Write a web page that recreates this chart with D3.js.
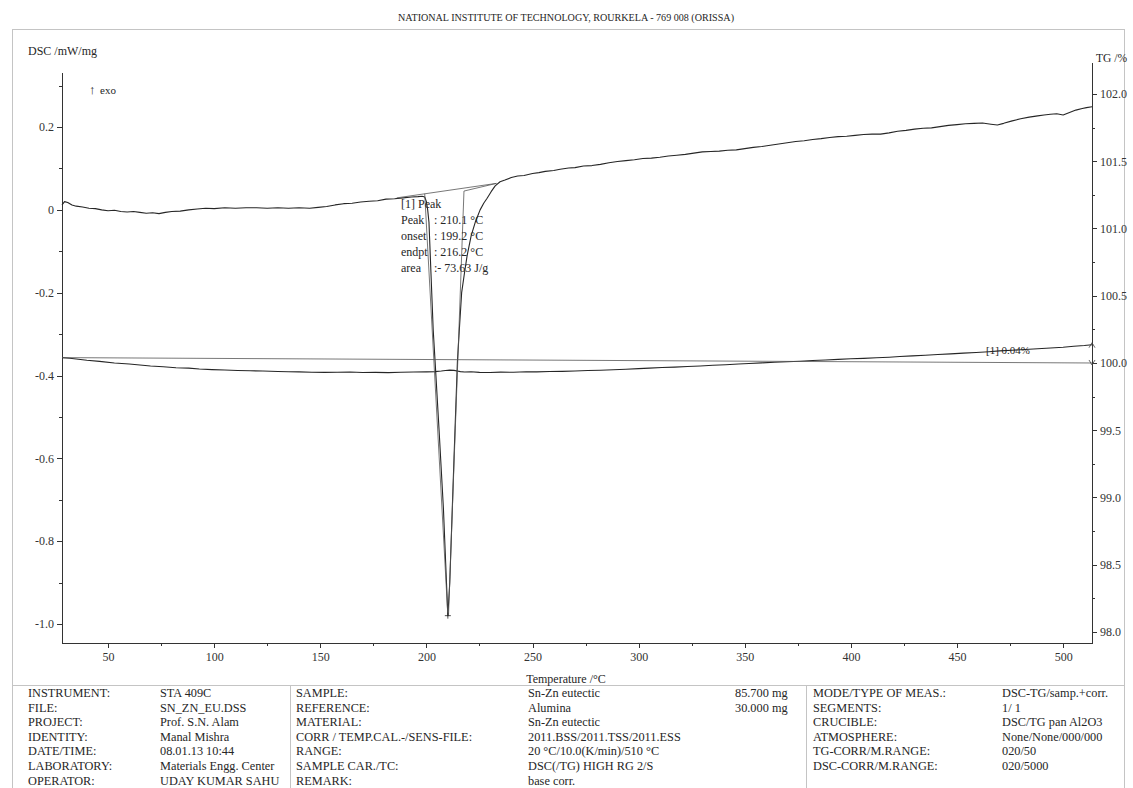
<!DOCTYPE html>
<html>
<head>
<meta charset="utf-8">
<script src="https://cdn.jsdelivr.net/npm/d3@7"></script>
<style>
  html, body { margin: 0; padding: 0; background: #fff; }
  svg { display: block; font-family: "Liberation Serif", "DejaVu Serif", serif; }
  .axis path, .axis line { stroke: #333; stroke-width: 1; shape-rendering: crispEdges; }
  .axis text { fill: #333; font-size: 12px; font-family: "Liberation Serif", serif; }
</style>
</head>
<body>
<svg id="chart" width="1133" height="788"></svg>
<script>
// ---- DSC signal (mW/mg) versus sample temperature (°C) ----
const dscTemp = [28.3, 29.5, 31, 33, 35, 38, 41, 44, 47, 50, 53, 56, 59, 62, 65, 68, 71, 74, 77, 80, 84, 88, 92, 96,
  100, 105, 110, 115, 120, 125, 130, 135, 140, 145, 149, 153, 157, 161, 165, 169, 173, 177, 181, 185, 189, 193, 196,
  198, 199.2, 200, 200.6, 201.2, 203.2, 204.1, 206, 208, 210.1, 211, 213, 214.6, 215.5, 216.6, 218, 219.2, 221.1,
  223, 225.3, 227, 228.6, 230.5, 232.4, 234.7, 237, 240, 243, 246, 250, 253, 256, 260, 263, 267, 270, 274, 278, 282,
  286, 290, 294, 298, 302, 306, 310, 314, 318, 322, 326, 330, 334, 338, 342, 346, 350, 354, 358, 362, 366, 370, 374,
  378, 382, 386, 390, 394, 398, 402, 406, 410, 414, 418, 422, 426, 430, 434, 438, 442, 446, 450, 454, 458, 462, 466,
  469, 472, 476, 480, 484, 488, 491, 494, 497, 500, 503, 506, 509, 511, 513.6];
const dscValue = [0.012, 0.02, 0.018, 0.012, 0.009, 0.007, 0.004, 0.003, 0.0, -0.002, -0.001, -0.004, -0.005, -0.004,
  -0.006, -0.008, -0.007, -0.009, -0.006, -0.004, -0.003, 0.0, 0.002, 0.004, 0.003, 0.005, 0.004, 0.005, 0.005,
  0.004, 0.005, 0.004, 0.005, 0.004, 0.006, 0.008, 0.012, 0.015, 0.016, 0.019, 0.021, 0.022, 0.026, 0.027, 0.029,
  0.031, 0.032, 0.033, 0.031, 0.02, 0.0, -0.03, -0.29, -0.367, -0.535, -0.72, -0.98, -0.9, -0.6, -0.367, -0.29, -0.2,
  -0.15, -0.11, -0.062, -0.03, 0.0, 0.016, 0.028, 0.044, 0.058, 0.068, 0.072, 0.078, 0.082, 0.083, 0.088, 0.09,
  0.093, 0.095, 0.098, 0.101, 0.102, 0.106, 0.107, 0.11, 0.114, 0.117,
  0.119, 0.121, 0.124, 0.125, 0.127, 0.13, 0.132, 0.134, 0.137, 0.14, 0.141, 0.142, 0.144, 0.145, 0.148, 0.151,
  0.153, 0.156, 0.159, 0.162, 0.165, 0.167, 0.17, 0.172, 0.175, 0.177, 0.178, 0.18, 0.182, 0.183, 0.183, 0.186,
  0.19, 0.192, 0.195, 0.197, 0.198, 0.201, 0.204, 0.206, 0.208, 0.209, 0.21, 0.207,
  0.205, 0.209, 0.215, 0.22, 0.224, 0.227, 0.229, 0.231, 0.232, 0.229, 0.235, 0.241, 0.245, 0.247, 0.249];

// ---- TG signal (%) versus sample temperature (°C) ----
const tgTemp = [28.3, 32, 35, 40, 46, 53, 60, 65, 70, 76, 82, 88, 93, 99, 105, 111, 117, 123, 130, 135, 140, 146,
  152, 158, 164, 170, 176, 182, 188, 194, 200, 204, 207, 209, 211, 213, 214.5, 216, 218, 221, 225, 230, 235, 241,
  247, 252, 258, 264, 270, 276, 282, 288, 294, 300, 305, 311, 317, 323, 329, 335, 341, 347, 352, 358, 364, 370, 376,
  382, 388, 394, 400, 406, 412, 418, 423, 429, 435, 441, 447, 453, 459, 465, 470, 476, 482, 488, 494, 500, 505, 510,
  513.6];
const tgValue = [100.04, 100.035, 100.03, 100.02, 100.012, 100.0, 99.993, 99.985, 99.978, 99.972, 99.965, 99.962,
  99.955, 99.951, 99.948, 99.944, 99.942, 99.94, 99.937, 99.935, 99.934, 99.931, 99.93, 99.931, 99.933, 99.929,
  99.93, 99.928, 99.931, 99.933, 99.934, 99.936, 99.94, 99.944, 99.947, 99.945, 99.941, 99.936, 99.933, 99.935,
  99.93, 99.929, 99.932, 99.931, 99.935, 99.934, 99.937, 99.938, 99.941, 99.944, 99.946, 99.95, 99.953, 99.958,
  99.962, 99.966, 99.969, 99.974, 99.978, 99.983, 99.987, 99.992, 99.996, 100.001, 100.005, 100.009, 100.013,
  100.018, 100.022, 100.027, 100.031, 100.034, 100.039, 100.043, 100.048, 100.053, 100.058, 100.063, 100.068,
  100.073, 100.078, 100.084, 100.09, 100.095, 100.1, 100.106, 100.112, 100.117, 100.124, 100.13, 100.136];

// ---- peak evaluation results ----
const peakTemp = 210.1;
const onsetTemp = 199.2;
const endTemp = 216.2;
const peakArea = -73.63;
const baseStart = [186, 0.029];
const baseEnd = [233, 0.064];
const massChange = 0.04;      // % over the run
const tgRefStart = 100.04;
const tgRefEnd = 100.0;

// ---- axis ticks ----
const xTicks = [50, 100, 150, 200, 250, 300, 350, 400, 450, 500];
const xMinor = [75, 125, 175, 225, 275, 325, 375, 425, 475];
const dscTicks = [0.2, 0, -0.2, -0.4, -0.6, -0.8, -1.0];
const dscTickLabels = ["0.2", "0", "-0.2", "-0.4", "-0.6", "-0.8", "-1.0"];
const dscMinor = [0.3, 0.1, -0.1, -0.3, -0.5, -0.7, -0.9];
const tgTicks = [102.0, 101.5, 101.0, 100.5, 100.0, 99.5, 99.0, 98.5, 98.0];
const tgMinor = [101.75, 101.25, 100.75, 100.25, 99.75, 99.25, 98.75, 98.25];

// ---- header and measurement table ----
const title = "NATIONAL INSTITUTE OF TECHNOLOGY, ROURKELA - 769 008 (ORISSA)";
const col1Labels = ["INSTRUMENT:", "FILE:", "PROJECT:", "IDENTITY:", "DATE/TIME:", "LABORATORY:", "OPERATOR:"];
const col1Values = ["STA 409C", "SN_ZN_EU.DSS", "Prof. S.N. Alam", "Manal Mishra", "08.01.13 10:44",
  "Materials Engg. Center", "UDAY KUMAR SAHU"];
const col2Labels = ["SAMPLE:", "REFERENCE:", "MATERIAL:", "CORR / TEMP.CAL.-/SENS-FILE:", "RANGE:",
  "SAMPLE CAR./TC:", "REMARK:"];
const col2Values = ["Sn-Zn eutectic", "Alumina", "Sn-Zn eutectic", "2011.BSS/2011.TSS/2011.ESS",
  "20 °C/10.0(K/min)/510 °C", "DSC(/TG) HIGH RG 2/S", "base corr."];
const col2Masses = ["85.700 mg", "30.000 mg"];
const col3Labels = ["MODE/TYPE OF MEAS.:", "SEGMENTS:", "CRUCIBLE:", "ATMOSPHERE:", "TG-CORR/M.RANGE:",
  "DSC-CORR/M.RANGE:"];
const col3Values = ["DSC-TG/samp.+corr.", " 1/ 1", "DSC/TG pan Al2O3", "None/None/000/000", "020/50", "020/5000"];

const svg = d3.select("#chart");
const ink = "#262626";
const frame = "#c4c4c4";

// plot geometry
const left = 62, right = 1092, bottom = 643;
const x = d3.scaleLinear().domain([28.3, 513.6]).range([left, right]);
const yL = d3.scaleLinear().domain([-1.046, 0.333]).range([bottom, 72]);
const yR = d3.scaleLinear().domain([97.918, 102.238]).range([bottom, 62]);

// page frame and table dividers
const tableTop = 685;
svg.append("rect").attr("x", 12.5).attr("y", 29.5).attr("width", 1112).attr("height", 770)
  .attr("fill", "none").attr("stroke", frame);
svg.append("line").attr("x1", 12).attr("x2", 1124).attr("y1", tableTop + 0.5).attr("y2", tableTop + 0.5)
  .attr("stroke", frame);
[290.5, 806.5].forEach(px => svg.append("line").attr("x1", px).attr("x2", px)
  .attr("y1", tableTop).attr("y2", 788).attr("stroke", frame));

// title
svg.append("text").attr("x", 566).attr("y", 21).attr("text-anchor", "middle")
  .attr("font-size", 11).attr("fill", ink).attr("textLength", 336).attr("lengthAdjust", "spacingAndGlyphs")
  .text(title);

// axes
const fmt = (vals, labs) => d => labs[vals.indexOf(d)];
svg.append("g").attr("class", "axis").attr("transform", `translate(${left},0)`)
  .call(d3.axisLeft(yL).tickValues(dscTicks).tickSize(5).tickSizeOuter(0).tickPadding(3)
    .tickFormat(fmt(dscTicks, dscTickLabels)));
svg.append("g").attr("class", "axis").attr("transform", `translate(${left},0)`)
  .call(d3.axisLeft(yL).tickValues(dscMinor).tickSize(3).tickSizeOuter(0).tickFormat(""))
  .select(".domain").remove();
svg.append("g").attr("class", "axis").attr("transform", `translate(${right},0)`)
  .call(d3.axisRight(yR).tickValues(tgTicks).tickSize(5).tickSizeOuter(0).tickPadding(3)
    .tickFormat(d3.format(".1f")));
svg.append("g").attr("class", "axis").attr("transform", `translate(${right},0)`)
  .call(d3.axisRight(yR).tickValues(tgMinor).tickSize(3).tickSizeOuter(0).tickFormat(""))
  .select(".domain").remove();
svg.append("g").attr("class", "axis").attr("transform", `translate(0,${bottom})`)
  .call(d3.axisBottom(x).tickValues(xTicks).tickSize(5).tickSizeOuter(0).tickPadding(4)
    .tickFormat(d3.format("d")));
svg.append("g").attr("class", "axis").attr("transform", `translate(0,${bottom})`)
  .call(d3.axisBottom(x).tickValues(xMinor).tickSize(3).tickSizeOuter(0).tickFormat(""))
  .select(".domain").remove();

// axis titles
svg.append("text").attr("x", 28).attr("y", 55).attr("font-size", 12).attr("fill", ink).text("DSC /mW/mg");
svg.append("text").attr("x", 1096).attr("y", 62).attr("font-size", 11.5).attr("fill", ink).text("TG /%");
svg.append("text").attr("x", 566).attr("y", 683).attr("text-anchor", "middle").attr("font-size", 12)
  .attr("fill", ink).text("Temperature /°C");
svg.append("text").attr("x", 89).attr("y", 94).attr("font-size", 13).attr("fill", ink).text("↑");
svg.append("text").attr("x", 100).attr("y", 94).attr("font-size", 11).attr("fill", ink).text("exo");

// curves
const line = (ys) => d3.line().x(d => x(d[0])).y(d => ys(d[1]));
const dscPts = dscTemp.map((t, i) => [t, dscValue[i]]);
const tgPts = tgTemp.map((t, i) => [t, tgValue[i]]);
const curves = svg.append("g").attr("fill", "none").attr("stroke-linejoin", "round");
curves.append("path").datum(dscPts).attr("d", line(yL)).attr("stroke", ink).attr("stroke-width", 1.1);
curves.append("path").datum(tgPts).attr("d", line(yR)).attr("stroke", ink).attr("stroke-width", 1.1);

// peak construction lines: baseline, onset and end tangents
const peakVal = dscValue[dscTemp.indexOf(peakTemp)];
const baseAt = t => baseStart[1] + (baseEnd[1] - baseStart[1]) * (t - baseStart[0]) / (baseEnd[0] - baseStart[0]);
const constr = svg.append("g").attr("fill", "none").attr("stroke", "#555").attr("stroke-width", 0.8);
constr.append("path").datum([baseStart, baseEnd]).attr("d", line(yL));
constr.append("path").datum([[onsetTemp, baseAt(onsetTemp)], [peakTemp, peakVal]]).attr("d", line(yL));
constr.append("path").datum([baseEnd, [endTemp + 1.5, baseAt(endTemp) - 0.006], [peakTemp + 0.3, peakVal]])
  .attr("d", line(yL));
// peak marker
const px0 = x(peakTemp), py0 = yL(peakVal);
constr.append("path").attr("d", `M${px0 - 3},${py0}H${px0 + 3}M${px0},${py0 - 3}V${py0 + 3}`).attr("stroke", ink);

// mass-change reference line with end markers
constr.append("path").datum([[28.3, tgRefStart], [513.6, tgRefEnd]]).attr("d", line(yR));
const tgEnd = tgValue[tgValue.length - 1];
svg.append("path").attr("d", `M${right - 3},${yR(tgEnd) + 3}L${right},${yR(tgEnd) - 2}L${right + 3},${yR(tgEnd) + 3}`)
  .attr("fill", "none").attr("stroke", "#444").attr("stroke-width", 0.8);
svg.append("path").attr("d", `M${right - 3},${yR(tgRefEnd) - 3}L${right},${yR(tgRefEnd) + 2}L${right + 3},${yR(tgRefEnd) - 3}`)
  .attr("fill", "none").attr("stroke", "#444").attr("stroke-width", 0.8);

// peak result text
const ann = svg.append("g").attr("font-size", 12).attr("fill", ink);
const annRows = [["[1] Peak", ""],
  ["Peak", `: ${peakTemp.toFixed(1)} °C`],
  ["onset", `: ${onsetTemp.toFixed(1)} °C`],
  ["endpt", `: ${endTemp.toFixed(1)} °C`],
  ["area", `:- ${Math.abs(peakArea).toFixed(2)} J/g`]];
annRows.forEach((r, i) => {
  const yy = 208 + i * 16;
  ann.append("text").attr("x", 401).attr("y", yy).text(r[0]);
  if (r[1]) ann.append("text").attr("x", 434).attr("y", yy).text(r[1]);
});
svg.append("text").attr("x", 986).attr("y", 354).attr("font-size", 11).attr("fill", ink)
  .text(`[1] ${massChange.toFixed(2)}%`);

// measurement table
const tbl = svg.append("g").attr("font-size", 12.3).attr("fill", ink);
const rowY = i => 697 + i * 14.6;
col1Labels.forEach((t, i) => tbl.append("text").attr("x", 28).attr("y", rowY(i)).text(t));
col1Values.forEach((t, i) => tbl.append("text").attr("x", 160).attr("y", rowY(i)).text(t));
col2Labels.forEach((t, i) => tbl.append("text").attr("x", 296).attr("y", rowY(i)).text(t));
col2Values.forEach((t, i) => tbl.append("text").attr("x", 528).attr("y", rowY(i)).text(t));
col2Masses.forEach((t, i) => tbl.append("text").attr("x", 735).attr("y", rowY(i)).text(t));
col3Labels.forEach((t, i) => tbl.append("text").attr("x", 813).attr("y", rowY(i)).text(t));
col3Values.forEach((t, i) => tbl.append("text").attr("x", 1002).attr("y", rowY(i)).text(t));
</script>
</body>
</html>
